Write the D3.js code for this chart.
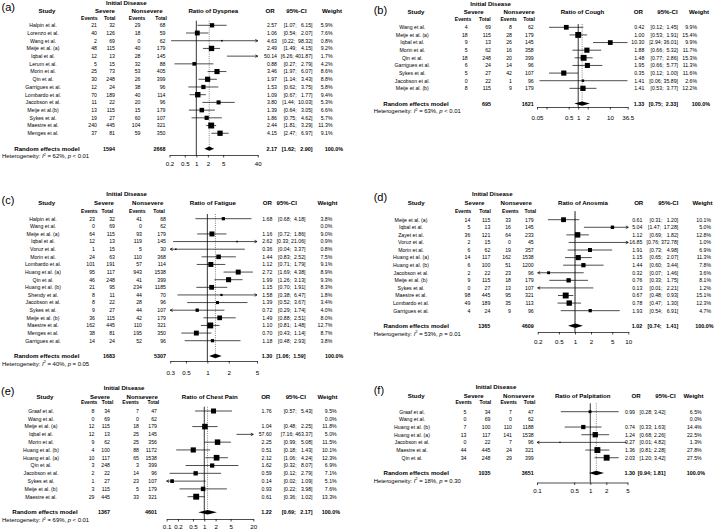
<!DOCTYPE html>
<html><head><meta charset="utf-8">
<script src="https://cdn.jsdelivr.net/npm/d3@7"></script>
<style>
body{margin:0;background:#fff;}
svg{display:block;font-family:"Liberation Sans",Arial,Helvetica,sans-serif;}
text{white-space:pre;}
</style></head><body>
<svg id="chart" width="714" height="530"></svg>
<script>
// ---------------- (a) Dyspnea ----------------
const dysStudies = ["Halpin et al.","Lorenzo et al.","Wang et al.","Meije et al. (a)","Iqbal et al.","Lerum et al.","Morin et al.","Qin et al.","Garrigues et al.","Lombardo et al.","Jacobson et al.","Meije et al.(b)","Sykes et al.","Maestre et al.","Menges et al."];
const dysSevEvents = [21,40,2,48,12,5,25,30,12,70,11,13,19,240,37];
const dysSevTotal  = [32,126,69,115,13,15,73,248,24,189,22,115,27,445,81];
const dysNonEvents = [29,18,0,40,28,32,53,26,38,40,20,15,60,104,59];
const dysNonTotal  = [68,59,62,179,145,88,405,399,96,114,96,179,107,321,350];
const dysOR    = [2.57,1.06,4.63,2.49,50.14,0.88,3.46,1.97,1.53,1.09,3.80,1.39,1.86,2.44,4.15];
const dysLower = [1.07,0.54,0.22,1.49,6.26,0.27,1.97,1.14,0.62,0.67,1.44,0.64,0.75,1.81,2.47];
const dysUpper = [6.15,2.07,98.32,4.15,401.87,2.79,6.07,3.43,3.75,1.77,10.03,3.05,4.62,3.29,6.97];
const dysWeight = [5.9,7.6,0.8,9.2,1.7,4.2,8.6,8.8,5.8,9.4,5.3,6.6,5.7,11.3,9.1];
const dysTotals = [1594,2668];
const dysSummary = [2.17,1.62,2.90];
const dysHet = [62,"< 0.01"];
const dysTicks = [0.2,0.5,1,2,5,40];
const dysTickLabels = ["0.2","0.5","1","2","5","40"];

// ---------------- (b) Cough ----------------
const cghStudies = ["Wang et al.","Meije et al. (a)","Iqbal et al.","Morin et al.","Qin et al.","Garrigues et al.","Sykes et al.","Jacobson et al.","Meije et al. (b)"];
const cghSevEvents = [4,18,9,5,18,6,5,0,8];
const cghSevTotal  = [69,115,13,62,248,24,27,22,115];
const cghNonEvents = [8,28,26,16,20,14,42,1,9];
const cghNonTotal  = [62,179,145,358,399,96,107,96,179];
const cghOR    = [0.42,1.00,10.30,1.88,1.48,1.95,0.35,1.41,1.41];
const cghLower = [0.12,0.53,2.94,0.66,0.77,0.66,0.12,0.06,0.53];
const cghUpper = [1.45,1.91,36.01,5.32,2.86,5.77,1.00,35.89,3.77];
const cghWeight = [9.9,15.4,9.9,11.7,15.3,11.3,11.6,2.6,12.2];
const cghTotals = [695,1621];
const cghSummary = [1.33,0.75,2.33];
const cghHet = [63,"< 0.01"];
const cghTicks = [0.05,0.1,0.5,1,2,10,36.5];
const cghTickLabels = ["0.05","","0.5","1","2","10","36.5"];

// ---------------- (c) Fatigue ----------------
const fatStudies = ["Halpin et al.","Wang et al.","Meije et al. (a)","Iqbal et al.","Voruz et al.","Morin et al.","Lombardo et al.","Huang et al. (a)","Qin et al.","Huang et al. (b)","Shendy et al.","Jacobson et al.","Sykes et al.","Meije et al. (b)","Maestre et al.","Menges et al.","Garrigues et al."];
const fatSevEvents = [23,0,64,12,1,24,101,95,46,21,8,8,9,36,162,38,14];
const fatSevTotal  = [32,69,115,13,15,63,191,117,248,95,11,22,27,115,445,81,24];
const fatNonEvents = [41,0,93,119,5,110,57,943,41,234,44,28,44,42,110,195,52];
const fatNonTotal  = [68,62,179,145,30,368,114,1538,399,1185,70,96,107,179,321,350,96];
const fatOR    = [1.68,null,1.16,2.62,0.36,1.44,1.12,2.72,1.99,1.15,1.58,1.39,0.72,1.49,1.10,0.70,1.18];
const fatLower = [0.68,null,0.72,0.33,0.04,0.83,0.71,1.69,1.26,0.70,0.38,0.52,0.29,0.88,0.81,0.43,0.48];
const fatUpper = [4.18,null,1.86,21.06,3.37,2.52,1.79,4.38,3.13,1.91,6.47,3.67,1.74,2.51,1.48,1.14,2.93];
const fatWeight = [3.8,0.0,9.0,0.9,0.8,7.5,9.1,8.9,9.3,8.3,1.8,3.4,4.0,8.0,12.7,8.7,3.8];
const fatTotals = [1683,5307];
const fatSummary = [1.30,1.06,1.59];
const fatHet = [40,"= 0.05"];
const fatTicks = [0.3,0.5,1,2,5];
const fatTickLabels = ["0.3","0.5","1","2","5"];

// ---------------- (d) Anosmia ----------------
const anoStudies = ["Meije et al. (a)","Iqbal et al.","Zayet et al.","Voruz et al.","Morin et al.","Huang et al. (a)","Huang et al. (b)","Jacobson et al.","Meije et al. (b)","Sykes et al.","Maestre et al.","Lombardo et al.","Garrigues et al."];
const anoSevEvents = [14,5,36,2,6,14,6,2,9,0,98,49,4];
const anoSevTotal  = [115,13,121,15,62,117,100,22,115,27,445,189,24];
const anoNonEvents = [33,16,64,0,19,162,51,23,18,13,95,35,9];
const anoNonTotal  = [179,145,233,45,357,1538,1200,96,179,107,321,113,96];
const anoOR    = [0.61,5.04,1.12,16.85,1.91,1.15,1.44,0.32,0.76,0.13,0.67,0.78,1.93];
const anoLower = [0.31,1.47,0.69,0.76,0.73,0.65,0.60,0.07,0.33,0.01,0.48,0.47,0.54];
const anoUpper = [1.20,17.28,1.82,372.78,4.98,2.07,3.44,1.46,1.75,2.21,0.93,1.30,6.91];
const anoWeight = [10.1,5.0,12.8,1.0,6.9,11.3,7.8,3.6,8.1,1.2,15.1,12.3,4.7];
const anoTotals = [1365,4609];
const anoSummary = [1.02,0.74,1.41];
const anoHet = [53,"= 0.01"];
const anoTicks = [0.2,0.5,1,2,5,10];
const anoTickLabels = ["0.2","0.5","1","2","5","10"];

// ---------------- (e) Chest Pain ----------------
const chpStudies = ["Graaf et al.","Wang et al.","Meije et al. (a)","Iqbal et al.","Morin et al.","Huang et al. (b)","Huang et al. (a)","Qin et al.","Jacobson et al.","Sykes et al.","Meije et al. (b)","Maestre et al."];
const chpSevEvents = [8,0,12,12,9,4,10,3,2,1,3,29];
const chpSevTotal  = [34,69,115,13,62,100,117,248,22,27,115,445];
const chpNonEvents = [7,0,18,25,25,88,65,3,14,23,5,33];
const chpNonTotal  = [47,62,179,145,356,1172,1538,399,96,107,179,321];
const chpOR    = [1.76,null,1.04,57.60,2.25,0.51,2.12,1.62,0.59,0.14,0.93,0.61];
const chpLower = [0.57,null,0.48,7.16,0.99,0.18,1.06,0.32,0.12,0.02,0.22,0.36];
const chpUpper = [5.43,null,2.25,463.37,5.08,1.43,4.24,8.07,2.79,1.09,3.98,1.02];
const chpWeight = [9.5,0.0,11.8,5.0,11.5,10.1,12.3,6.9,7.1,5.1,7.6,13.3];
const chpTotals = [1367,4601];
const chpSummary = [1.22,0.69,2.17];
const chpHet = [69,"< 0.01"];
const chpTicks = [0.1,0.2,0.5,1,2,5,20];
const chpTickLabels = ["0.1","0.2","0.5","1","2","5","20"];

// ---------------- (f) Palpitation ----------------
const palStudies = ["Graaf et al.","Wang et al.","Huang et al. (b)","Huang et al. (a)","Jacobson et al.","Maestre et al.","Qin et al."];
const palSevEvents = [5,0,7,13,0,44,34];
const palSevTotal  = [34,69,100,117,22,445,248];
const palNonEvents = [7,0,110,141,7,24,29];
const palNonTotal  = [47,62,1188,1538,96,321,399];
const palOR    = [0.99,null,0.74,1.24,0.27,1.36,2.03];
const palLower = [0.28,null,0.33,0.68,0.01,0.81,1.20];
const palUpper = [3.42,null,1.63,2.26,4.82,2.28,3.42];
const palWeight = [6.5,0.0,14.4,22.5,1.3,27.8,27.5];
const palTotals = [1035,3651];
const palSummary = [1.30,0.94,1.81];
const palHet = [18,"= 0.30"];
const palTicks = [0.1,0.5,1,2,5];
const palTickLabels = ["0.1","0.5","1","2","5"];

// ---------------- layout (positions only) ----------------
const layout = {
  a:{letter:"(a)",lx:1.5,ly:6.7,y0:25.3,dy:7.71,hy:[3,11.2,18.3],nameC:43,studyC:47,colR:[97,115,140.5,165.5],hdrC:[89.3,109.7,137,161],sevC:105,nonC:147,initC:126.3,hetX:2,range:[169.5,257.8],axisY:155,labelY:163.3,vTop:20.7,ratioC:213.3,orC:270,ciC:296.5,wC:332,orR:277,ciR:312.5,wR:332.5,wTotR:343},
  b:{letter:"(b)",lx:373.7,ly:10,y0:27.3,dy:7.63,hy:[3.3,11.5,19],nameC:412.3,studyC:416,colR:[467.7,491,512,533.7],hdrC:[463,484.8,508.7,529],sevC:473.7,nonC:519,initC:490.7,hetX:373.7,range:[537,627.7],axisY:107,labelY:117.3,vTop:24,ratioC:582.5,orC:638.3,ciC:667.5,wC:699,orR:644.3,ciR:678,wR:697,wTotR:710},
  c:{letter:"(c)",lx:1.5,ly:199.7,y0:218.7,dy:7.625,hy:[194,202.7,210.7],nameC:43,studyC:46.7,colR:[95,115,142,166],hdrC:[89.3,107.3,137.3,159],sevC:104,nonC:147.7,initC:126.7,hetX:2,range:[170.2,257],axisY:361,labelY:372.3,vTop:214,ratioC:212.8,orC:267.3,ciC:286.7,wC:327.5,orR:272.3,ciR:305.5,wR:332.3,wTotR:343.3},
  d:{letter:"(d)",lx:373.7,ly:197,y0:219.7,dy:7.58,hy:[194,202.5,210.7],nameC:411,studyC:416.2,colR:[470.3,490.3,511,533.7],hdrC:[463.2,485,510.3,530.3],sevC:474.5,nonC:516.2,initC:492.3,hetX:373.7,range:[537.7,628.3],axisY:332,labelY:341.3,vTop:211.3,ratioC:583,orC:638.7,ciC:668.3,wC:702.5,orR:642.3,ciR:678.3,wR:711,wTotR:713.5},
  e:{letter:"(e)",lx:1,ly:390.8,y0:411,dy:7.79,hy:[388.3,396.5,402.3],nameC:41,studyC:45,colR:[94.5,110,139,157],hdrC:[89.2,107.5,130.5,153.3],sevC:100,nonC:142.2,initC:124.2,hetX:2,range:[166.6,253.3],axisY:519,labelY:526.7,vTop:406.7,ratioC:209.7,orC:265.7,ciC:295.8,wC:327.5,orR:271.7,ciR:312.5,wR:336.7,wTotR:340},
  f:{letter:"(f)",lx:373.7,ly:390,y0:411.7,dy:7.67,hy:[387.3,395.5,402.3],nameC:412,studyC:416.2,colR:[466.5,490.5,512,533.7],hdrC:[463.7,485.3,508.7,529.5],sevC:473.7,nonC:518.7,initC:496,hetX:373.7,range:[537,627.5],axisY:482.5,labelY:490.3,vTop:403.3,ratioC:582.7,orC:636,ciC:665.5,wC:693.5,orR:635,ciR:665.5,wR:701.7,wTotR:705}
};

const panels = [
  {key:"a",outcome:"Dyspnea",studies:dysStudies,sevE:dysSevEvents,sevT:dysSevTotal,nonE:dysNonEvents,nonT:dysNonTotal,or:dysOR,lower:dysLower,upper:dysUpper,weight:dysWeight,totals:dysTotals,summary:dysSummary,het:dysHet,ticks:dysTicks,tickLabels:dysTickLabels},
  {key:"b",outcome:"Cough",studies:cghStudies,sevE:cghSevEvents,sevT:cghSevTotal,nonE:cghNonEvents,nonT:cghNonTotal,or:cghOR,lower:cghLower,upper:cghUpper,weight:cghWeight,totals:cghTotals,summary:cghSummary,het:cghHet,ticks:cghTicks,tickLabels:cghTickLabels},
  {key:"c",outcome:"Fatigue",studies:fatStudies,sevE:fatSevEvents,sevT:fatSevTotal,nonE:fatNonEvents,nonT:fatNonTotal,or:fatOR,lower:fatLower,upper:fatUpper,weight:fatWeight,totals:fatTotals,summary:fatSummary,het:fatHet,ticks:fatTicks,tickLabels:fatTickLabels},
  {key:"d",outcome:"Anosmia",studies:anoStudies,sevE:anoSevEvents,sevT:anoSevTotal,nonE:anoNonEvents,nonT:anoNonTotal,or:anoOR,lower:anoLower,upper:anoUpper,weight:anoWeight,totals:anoTotals,summary:anoSummary,het:anoHet,ticks:anoTicks,tickLabels:anoTickLabels},
  {key:"e",outcome:"Chest Pain",studies:chpStudies,sevE:chpSevEvents,sevT:chpSevTotal,nonE:chpNonEvents,nonT:chpNonTotal,or:chpOR,lower:chpLower,upper:chpUpper,weight:chpWeight,totals:chpTotals,summary:chpSummary,het:chpHet,ticks:chpTicks,tickLabels:chpTickLabels},
  {key:"f",outcome:"Palpitation",studies:palStudies,sevE:palSevEvents,sevT:palSevTotal,nonE:palNonEvents,nonT:palNonTotal,or:palOR,lower:palLower,upper:palUpper,weight:palWeight,totals:palTotals,summary:palSummary,het:palHet,ticks:palTicks,tickLabels:palTickLabels}
];

const FR = 5.2;   // row text
const HB = 6.1;   // bold headers
const HS = 5.0;   // Events / Total
const SB = 5.4;   // summary numbers
const HET = 5.9;
const AX = 6.2;
const SQ = 5.9;   // max square side
const DH = 2.2;   // diamond half height

const svg = d3.select("#chart");

function drawPanel(P, L) {
  const g = svg.append("g");
  const n = P.studies.length;
  const y = d3.scaleLinear().domain([0, 1]).range([L.y0, L.y0 + L.dy]);
  const x = d3.scaleLog().domain([P.ticks[0], P.ticks[P.ticks.length - 1]]).range(L.range);
  const [dmin, dmax] = x.domain();

  const txt = (s, xx, cy, anchor, size, weight) =>
    g.append("text").attr("x", xx).attr("y", cy + 0.36 * size)
      .attr("text-anchor", anchor).attr("font-size", size)
      .attr("font-weight", weight || "normal").attr("fill", "#000").text(s);

  txt(L.letter, L.lx, L.ly, "start", 11);
  txt("Initial Disease", L.initC, L.hy[0], "middle", HB, "bold");
  txt("Study", L.studyC, L.hy[1], "middle", HB, "bold");
  txt("Severe", L.sevC, L.hy[1], "middle", HB, "bold");
  txt("Nonsevere", L.nonC, L.hy[1], "middle", HB, "bold");
  ["Events", "Total", "Events", "Total"].forEach((s, i) => txt(s, L.hdrC[i], L.hy[2], "middle", HS, "bold"));
  txt("Ratio of " + P.outcome, L.ratioC, L.hy[1], "middle", HB, "bold");
  txt("OR", L.orC, L.hy[1], "middle", HB, "bold");
  txt("95%-CI", L.ciC, L.hy[1], "middle", HB, "bold");
  txt("Weight", L.wC, L.hy[1], "middle", HB, "bold");

  const ups = P.upper.filter(v => v != null).concat([P.summary[2]]);
  const maxU = d3.max(ups, v => v.toFixed(2).length);
  const fmtCI = (lo, hi) => "[" + lo.toFixed(2) + "; " + hi.toFixed(2).padStart(maxU, " ") + "]";

  // study rows text
  P.studies.forEach((s, i) => {
    const cy = y(i);
    txt(s, L.nameC, cy, "middle", FR);
    [P.sevE, P.sevT, P.nonE, P.nonT].forEach((arr, k) => txt(String(arr[i]), L.colR[k], cy, "end", FR));
    if (P.or[i] != null) {
      txt(P.or[i].toFixed(2), L.orR, cy, "end", FR);
      txt(fmtCI(P.lower[i], P.upper[i]), L.ciR, cy, "end", FR);
    }
    txt(P.weight[i].toFixed(1) + "%", L.wR, cy, "end", FR);
  });

  const ys = y(n + 1);
  // reference lines
  g.append("line").attr("x1", x(1)).attr("x2", x(1)).attr("y1", L.vTop).attr("y2", L.axisY)
    .attr("stroke", "#000").attr("stroke-width", 0.8);
  g.append("line").attr("x1", x(P.summary[0])).attr("x2", x(P.summary[0])).attr("y1", L.vTop).attr("y2", ys)
    .attr("stroke", "#555").attr("stroke-width", 0.7).attr("stroke-dasharray", "1,1.2");

  // CIs and squares
  const wmax = d3.max(P.weight);
  P.or.forEach((o, i) => {
    if (o == null) return;
    const cy = y(i);
    const lo = Math.max(P.lower[i], dmin), hi = Math.min(P.upper[i], dmax);
    g.append("line").attr("x1", x(lo)).attr("x2", x(hi)).attr("y1", cy).attr("y2", cy)
      .attr("stroke", "#000").attr("stroke-width", 0.7);
    if (P.lower[i] < dmin) {
      const ax = x(dmin);
      g.append("path").attr("d", `M${ax + 2.5},${cy - 1.3}L${ax},${cy}L${ax + 2.5},${cy + 1.3}`)
        .attr("fill", "none").attr("stroke", "#000").attr("stroke-width", 0.7);
    }
    if (P.upper[i] > dmax) {
      const ax = x(dmax);
      g.append("path").attr("d", `M${ax - 2.5},${cy - 1.3}L${ax},${cy}L${ax - 2.5},${cy + 1.3}`)
        .attr("fill", "none").attr("stroke", "#000").attr("stroke-width", 0.7);
    }
    if (o >= dmin && o <= dmax) {
      const s = SQ * Math.sqrt(P.weight[i] / wmax);
      g.append("rect").attr("x", x(o) - s / 2).attr("y", cy - s / 2).attr("width", s).attr("height", s).attr("fill", "#000");
    }
  });

  // diamond
  const [so, sl, su] = P.summary;
  g.append("path").attr("d", `M${x(sl)},${ys}L${x(so)},${ys - DH}L${x(su)},${ys}L${x(so)},${ys + DH}Z`).attr("fill", "#000");

  // summary row text
  txt("Random effects model", L.studyC, ys, "middle", HB, "bold");
  txt(String(P.totals[0]), L.colR[1], ys, "end", SB, "bold");
  txt(String(P.totals[1]), L.colR[3], ys, "end", SB, "bold");
  txt(so.toFixed(2), L.orR, ys, "end", SB, "bold");
  txt(fmtCI(sl, su), L.ciR, ys, "end", SB, "bold");
  txt("100.0%", L.wTotR, ys, "end", SB, "bold");

  // heterogeneity
  const yh = y(n + 2);
  const het = g.append("text").attr("x", L.hetX).attr("y", yh + 0.36 * HET).attr("font-size", HET).attr("fill", "#000");
  het.append("tspan").text("Heterogeneity: ");
  het.append("tspan").attr("font-style", "italic").text("I");
  het.append("tspan").attr("font-size", HET * 0.7).attr("dy", -HET * 0.4).text("2");
  het.append("tspan").attr("dy", HET * 0.4).text(" = " + P.het[0] + "%, ");
  het.append("tspan").attr("font-style", "italic").text("p");
  het.append("tspan").text(" " + P.het[1]);

  // axis
  const tickLen = 2.5;
  const pad = L.labelY - L.axisY - tickLen - 0.35 * AX;
  const axis = d3.axisBottom(x).tickValues(P.ticks)
    .tickFormat(d => P.tickLabels[P.ticks.indexOf(d)])
    .tickSize(tickLen).tickSizeOuter(0).tickPadding(pad);
  const ag = g.append("g").attr("transform", `translate(0,${L.axisY})`).call(axis);
  ag.attr("font-size", AX).attr("font-family", null);
  ag.selectAll("path,line").attr("stroke", "#000").attr("stroke-width", 0.7);
  ag.selectAll("text").attr("fill", "#000");
}

panels.forEach(P => drawPanel(P, layout[P.key]));
</script>
</body></html>
